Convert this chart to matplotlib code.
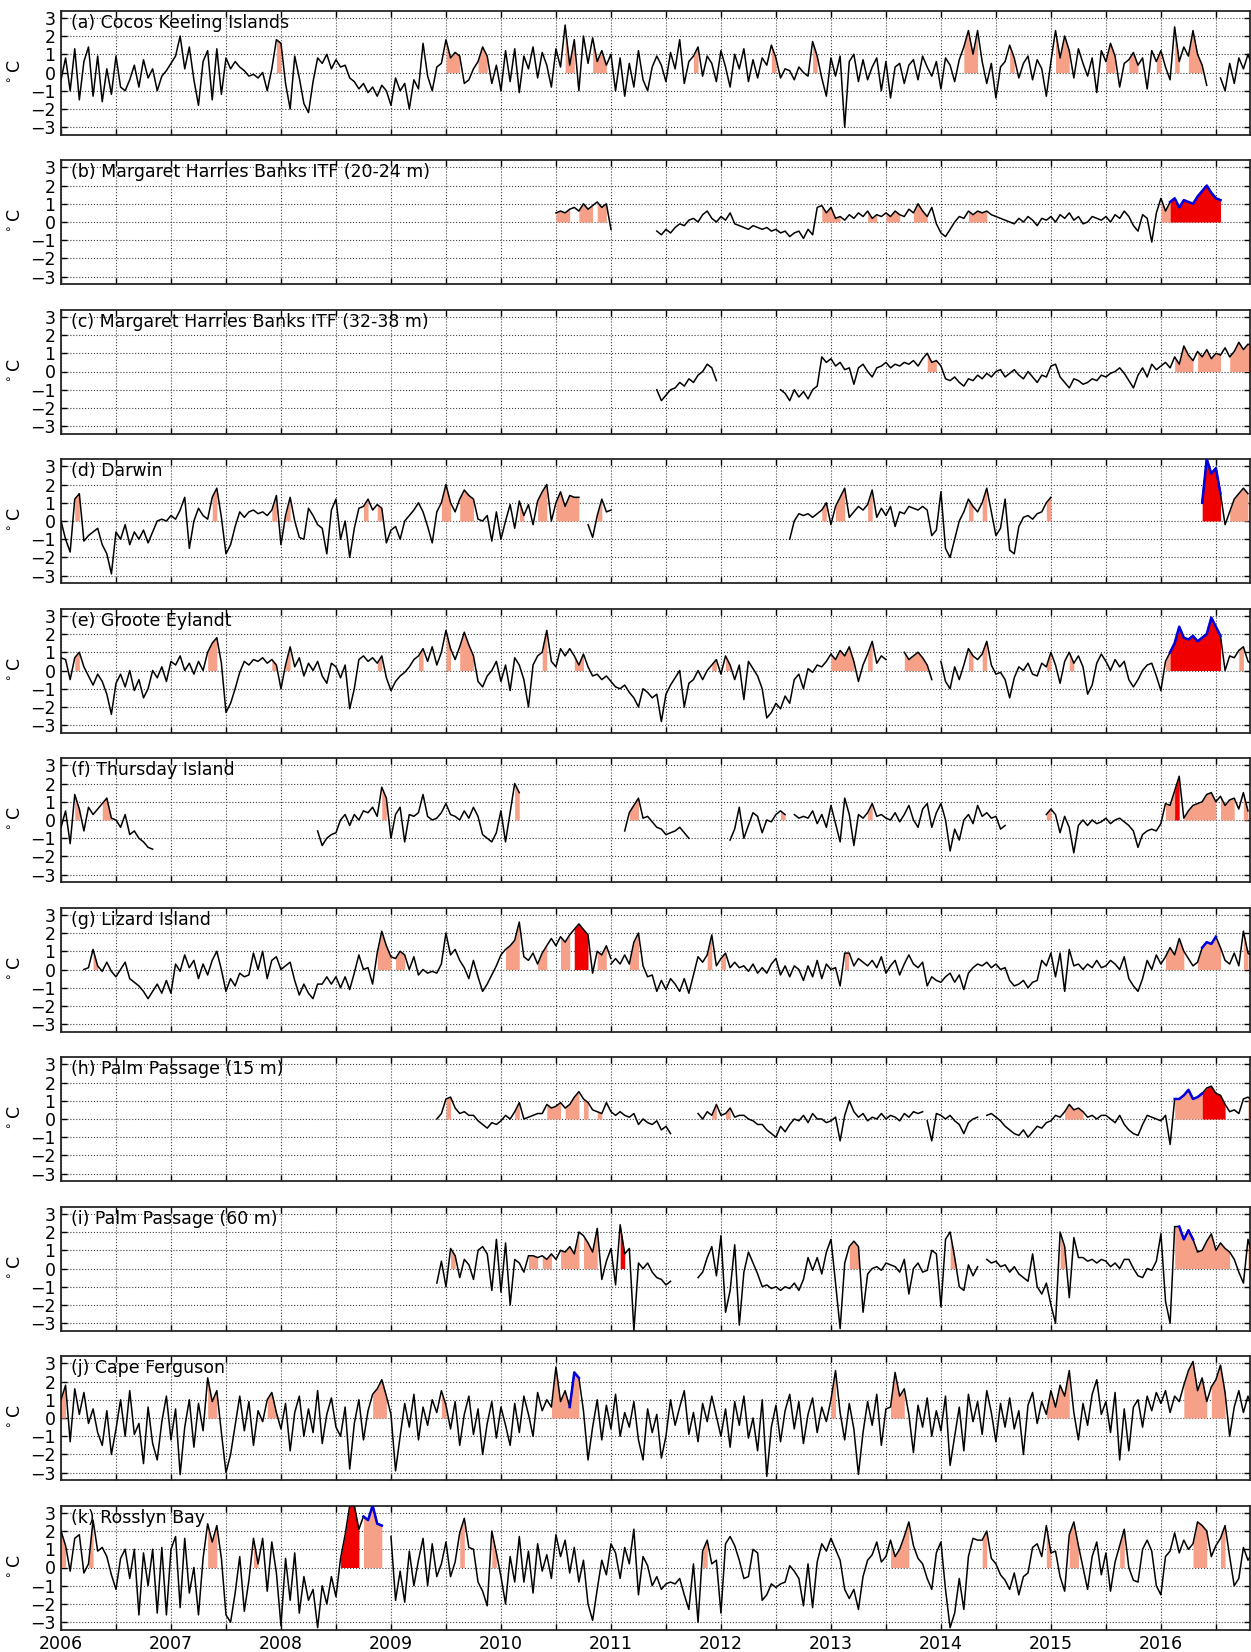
import numpy as np
import matplotlib.pyplot as plt

# semi-monthly temperature anomalies (deg C)
step = 1 / 24.0

# ---------------- (a) Cocos Keeling Islands ----------------
a_2006 = [-0.4, 0.8, -1.0, 1.3, -1.5, 0.6, 1.4, -1.3, 0.9, -1.6, 0.2, -1.2, 0.9, -0.8, -1.0, -0.4, 0.4, -0.8, 0.7, -0.3, 0.2, -1.0, -0.2, 0.1]
a_2007 = [0.5, 0.9, 2.0, 0.2, 1.4, -0.4, -1.8, 0.6, 1.2, -1.5, 1.3, -1.2, 0.8, 0.2, 0.6, 0.3, 0.1, -0.2, -0.1, -0.3, 0.0, -1.0, 0.2, 1.8]
a_2008 = [1.6, -0.6, -2.0, 0.9, -0.3, -1.7, -2.2, -0.5, 0.8, 0.5, 1.0, 0.2, 0.7, 0.3, 0.4, -0.3, -0.5, -0.9, -0.6, -1.1, -0.8, -1.3, -0.7, -1.0]
a_2009 = [-1.8, -0.3, -1.0, -0.6, -2.0, -0.4, -0.9, 1.6, -0.2, -1.0, 0.3, 0.5, 1.8, 0.8, 1.1, 0.9, -0.6, -0.4, 0.2, 0.6, 1.4, 0.9, -0.6, 0.4]
a_2010 = [-1.0, 1.2, -0.5, 1.3, -1.1, 0.9, 0.2, 1.4, -0.3, 1.1, 0.4, -0.8, 1.3, 0.3, 2.6, 0.4, 1.8, -1.0, 2.0, 0.5, 1.9, 0.6, 1.2, 0.4]
a_2011 = [1.0, -1.0, 0.8, -1.3, 0.5, -0.8, 1.2, -0.4, -1.0, 0.3, 0.9, 0.4, -0.5, 1.1, 0.2, 1.8, -0.6, 0.6, 0.9, 1.4, -0.2, 0.9, 0.5, -0.5]
a_2012 = [1.2, 0.3, -0.8, 1.0, 0.2, 1.3, -0.5, 0.7, -0.3, 0.8, 0.4, 1.5, 0.8, -0.3, 0.2, 0.1, -0.4, 0.3, 0.0, -0.2, 1.7, 0.9, -0.3, -1.3]
a_2013 = [0.8, -0.2, 0.9, -3.0, 0.6, 1.0, -0.5, 0.7, -0.4, 0.3, 0.8, -1.0, 0.6, -1.4, 0.3, 0.5, -0.6, 0.4, 0.7, -0.4, 0.9, 0.3, -0.2, 0.6]
a_2014 = [-0.9, 0.8, 0.4, -0.5, 0.7, 1.4, 2.3, 1.0, 2.3, 0.6, -0.6, 0.5, -1.4, 0.3, 0.6, 1.5, 0.8, -0.3, 0.5, 0.9, -0.4, 0.7, 0.2, -1.3]
a_2015 = [0.6, 2.3, 0.8, 2.0, 1.2, -0.3, 1.3, 0.5, -0.2, 0.8, -1.1, 1.2, 0.6, 1.6, 0.9, -0.8, 0.5, 0.7, 1.1, 0.4, 0.8, -0.9, 1.2, 0.6]
a_2016 = [1.2, 0.3, -0.4, 2.5, 0.6, 1.4, 0.9, 2.3, 1.0, 0.4, -0.7]
a_late = [-0.3, -1.0, 0.5, -0.6, 0.8, 0.2, 1.0, 0.3]
a_segments = [(2006.0, a_2006 + a_2007 + a_2008 + a_2009 + a_2010 + a_2011 + a_2012
               + a_2013 + a_2014 + a_2015 + a_2016),
              (2016.542, a_late)]
a_mhw = [(2007.95, 2008.02), (2009.5, 2009.63), (2009.78, 2009.88), (2010.58, 2010.69),
         (2010.83, 2010.97), (2011.74, 2011.8), (2012.45, 2012.5), (2012.82, 2012.88),
         (2014.2, 2014.34), (2014.6, 2014.68), (2015.02, 2015.18), (2015.5, 2015.6),
         (2015.7, 2015.8), (2015.95, 2016.01), (2016.12, 2016.17), (2016.25, 2016.38)]
a_red = []
a_blue = []

# ---------------- (b) Margaret Harries Banks ITF (20-24 m) ----------------
b_2010 = [0.5, 0.6, 0.5, 0.7, 0.8, 0.6, 1.0, 0.7, 0.9, 1.1, 0.8, 1.0, -0.4]
b_2011 = [-0.5, -0.7, -0.4, -0.6, -0.3, -0.1, -0.2, 0.1, 0.2, 0.0, 0.4, 0.6, 0.2]
b_2012 = [0.0, 0.3, 0.1, 0.5, -0.1, -0.2, -0.3, -0.4, -0.2, -0.3, -0.4, -0.3, -0.5, -0.4, -0.6, -0.5, -0.8, -0.6, -0.5, -0.9, -0.4, -0.7, 0.8, 0.9]
b_2013 = [0.5, 0.8, 0.2, 0.3, 0.1, 0.4, 0.2, 0.5, 0.3, 0.6, 0.2, 0.4, 0.3, 0.5, 0.3, 0.6, 0.4, 0.3, 0.7, 0.5, 1.0, 0.6, 0.3, 0.8]
b_2014 = [-0.1, -0.6, -0.8, -0.4, 0.0, 0.3, 0.2, 0.6, 0.4, 0.6, 0.5, 0.6, 0.4, 0.3, 0.2, 0.1, 0.0, -0.1, 0.2, 0.0, 0.3, 0.1, -0.2, 0.2]
b_2015 = [0.1, 0.3, 0.0, 0.4, 0.2, 0.5, 0.1, 0.3, -0.1, 0.0, 0.3, 0.2, 0.1, 0.3, 0.0, 0.4, 0.2, 0.6, 0.3, -0.2, -0.5, 0.4, 0.2, -1.1]
b_2016 = [0.5, 1.3, 0.6, 1.1, 1.3, 0.8, 1.2, 1.1, 1.0, 1.4, 1.7, 2.0, 1.6, 1.3, 1.2]
b_segments = [(2010.5, b_2010), (2011.417, b_2011 + b_2012 + b_2013 + b_2014 + b_2015 + b_2016)]
b_mhw = [(2010.5, 2010.63), (2010.67, 2010.84), (2010.875, 2010.96), (2012.9, 2013.1),
         (2013.33, 2013.42), (2013.5, 2013.63), (2013.75, 2013.88), (2014.25, 2014.42),
         (2015.2, 2015.25), (2016.0, 2016.1)]
b_red = [(2016.08, 2016.6)]
b_blue = [(2016.08, 2016.6)]

# ---------------- (c) Margaret Harries Banks ITF (32-38 m) ----------------
c_2011 = [-1.0, -1.6, -1.3, -1.0, -0.9, -0.6, -0.8, -0.4, -0.6, -0.2, 0.0, 0.4, 0.2, -0.5]
c_2012 = [-1.0, -1.2, -1.6, -1.0, -1.4, -1.1, -1.5, -1.0, -0.8, 0.8, 0.5]
c_2013 = [0.7, 0.3, 0.5, 0.1, 0.2, -0.7, 0.2, 0.4, 0.0, -0.3, 0.2, 0.3, 0.5, 0.2, 0.4, 0.3, 0.5, 0.4, 0.6, 0.3, 0.7, 1.0, 0.5, 0.6]
c_2014 = [0.3, -0.4, -0.5, -0.3, -0.6, -0.8, -0.4, -0.5, -0.2, -0.4, -0.1, -0.3, 0.0, 0.1, -0.3, -0.1, 0.1, -0.2, -0.4, 0.0, -0.3, -0.6, -0.2, -0.3]
c_2015 = [0.3, 0.4, -0.3, -0.6, -0.9, -0.4, -0.5, -0.7, -0.6, -0.4, -0.5, -0.2, -0.3, -0.1, 0.0, 0.2, -0.1, -0.5, -0.9, -0.2, 0.2, -0.3, 0.4, 0.1]
c_2016 = [0.3, 0.5, 0.2, 0.8, 0.4, 1.4, 0.9, 0.6, 1.1, 0.8, 1.2, 0.7, 1.0, 0.9, 1.3, 0.8, 1.1, 1.6, 1.2, 1.5, 1.4]
c_segments = [(2011.417, c_2011), (2012.542, c_2012 + c_2013 + c_2014 + c_2015 + c_2016)]
c_mhw = [(2013.87, 2014.0), (2016.1, 2016.3), (2016.33, 2016.55), (2016.6, 2016.84)]
c_red = []
c_blue = []

# ---------------- (d) Darwin ----------------
d_2006 = [0.0, -1.0, -1.7, 1.2, 1.5, -1.1, -0.8, -0.6, -0.4, -1.3, -1.8, -2.9, -0.6, -1.0, -0.2, -1.3, -0.6, -1.0, -0.5, -1.2, -0.6, 0.0, 0.1, 0.0]
d_2007 = [0.3, 0.1, 0.6, 1.3, -1.5, 0.0, 0.7, 0.3, 0.1, 1.3, 1.8, 0.2, -1.8, -1.3, -0.3, 0.5, 0.2, 0.5, 0.6, 0.4, 0.5, 0.3, 0.6, 1.4]
d_2008 = [-1.3, 0.3, 1.3, 0.0, -0.9, -1.0, 0.7, 0.3, -0.2, -0.4, -1.8, 0.6, 1.2, -1.0, 0.0, -2.0, -0.4, 0.7, 0.8, 1.2, 0.6, 0.9, 0.7, -1.2]
d_2009 = [-0.5, -0.3, -1.0, 0.0, 0.3, 0.6, 1.0, 0.5, -0.3, -1.2, 0.5, 1.0, 2.0, 1.0, 0.5, 1.2, 1.7, 1.4, 1.2, 0.1, 0.0, 0.3, -1.1, 0.5]
d_2010 = [-1.0, 0.0, 0.9, -0.4, 1.1, 0.3, 0.9, -0.2, 1.1, 1.6, 2.0, 0.0, 1.0, 1.6, 0.8, 1.4, 1.3, 1.3]
d_2010b = [-0.2, -0.9, 0.3, 1.2, 0.5, 0.6]
d_2012 = [-1.0, 0.0, 0.4, 0.3, 0.4, 0.2, 0.4, 0.6, 1.0]
d_2013 = [-0.2, 0.8, 1.3, 1.8, 0.2, 0.5, 0.8, 0.6, 0.9, 1.7, 0.2, 0.7, 0.3, 0.8, -0.3, 0.5, 0.4, 0.8, 0.7, 0.6, 0.8, 0.6, -0.8, -0.5]
d_2014 = [1.6, -1.5, -2.0, -1.0, 0.0, 0.5, 1.2, 0.8, 0.5, 1.0, 1.8, 0.5, -0.8, -0.4, 1.2, -1.6, -1.8, -0.3, 0.2, 0.3, 0.1, 0.4, 0.5, 1.0, 1.3]
d_2016 = [1.0, 3.4, 2.6, 2.9, 1.5, -0.2, 0.5, 1.2, 1.5, 1.8, 1.5]
d_segments = [(2006.0, d_2006 + d_2007 + d_2008 + d_2009 + d_2010), (2010.792, d_2010b),
              (2012.625, d_2012 + d_2013 + d_2014), (2016.375, d_2016)]
d_mhw = [(2006.12, 2006.17), (2007.37, 2007.42), (2007.91, 2007.96), (2008.04, 2008.09),
         (2008.75, 2008.8), (2008.87, 2008.92), (2009.45, 2009.55), (2009.62, 2009.75),
         (2010.16, 2010.21), (2010.33, 2010.42), (2010.5, 2010.71), (2010.87, 2010.92),
         (2012.91, 2012.96), (2013.04, 2013.13), (2013.33, 2013.38), (2014.24, 2014.3),
         (2014.37, 2014.42), (2014.95, 2015.0), (2016.62, 2016.8)]
d_red = [(2016.37, 2016.55)]
d_blue = [(2016.37, 2016.55)]

# ---------------- (e) Groote Eylandt ----------------
e_2006 = [0.7, 0.6, -0.5, 0.7, 1.0, 0.2, -0.3, -0.8, -0.2, -0.6, -1.3, -2.4, -0.7, -0.2, -0.9, 0.0, -1.1, -0.5, -1.5, -1.0, 0.0, -0.4, 0.2, -0.6]
e_2007 = [0.5, 0.3, 0.8, 0.0, 0.4, -0.2, 0.5, 0.0, 1.0, 1.5, 1.8, 0.4, -2.3, -1.8, -1.0, -0.1, 0.5, 0.3, 0.6, 0.5, 0.7, 0.4, 0.6, 0.3]
e_2008 = [-1.0, 0.3, 1.3, 0.2, 0.7, -0.3, 0.4, 0.0, 0.5, -0.3, -0.7, 0.4, 0.2, -0.4, 0.3, -2.1, -1.0, 0.6, 0.8, 0.5, 0.7, 0.4, 0.8, -0.4]
e_2009 = [-1.1, -0.6, -0.3, -0.1, 0.2, 0.6, 0.8, 1.2, 0.5, 1.3, 0.3, 1.0, 2.2, 1.2, 0.6, 1.3, 2.1, 1.4, 0.8, -0.6, -0.9, -0.3, 0.0, 0.5]
e_2010 = [-0.6, 0.3, -1.1, 0.7, 0.3, -0.5, -2.0, 0.3, 0.8, 1.0, 2.2, 0.5, 0.2, 1.2, 0.8, 1.2, 0.8, 0.3, 0.9, 0.2, -0.3, -0.2, -0.5, -0.3]
e_2011 = [-0.6, -0.9, -1.0, -0.8, -1.2, -1.5, -2.0, -1.0, -1.2, -1.5, -1.3, -2.8, -1.3, -0.8, -0.4, 0.0, -2.0, -0.7, -0.5, 0.0, -0.5, 0.0, 0.3, 0.6]
e_2012 = [-0.2, 0.8, 0.3, -0.5, 0.3, -1.6, 0.5, 0.1, -0.3, -1.0, -2.6, -2.3, -1.8, -2.1, -1.4, -1.8, -0.5, -0.2, -1.0, 0.1, -0.1, 0.3, 0.2, 0.5]
e_2013 = [0.9, 0.6, 1.1, 0.8, 1.3, 0.5, -0.6, 0.3, 0.9, 1.6, 0.4, 0.8, 0.6]
e_2013b = [1.0, 0.6, 0.8, 1.0, 0.7, 0.3, -0.5]
e_2014 = [0.5, -0.6, -1.0, 0.2, -0.5, 0.3, 1.2, 0.8, 0.6, 0.9, 1.6, 0.3, -0.2, -0.1, -0.5, -1.5, -0.4, 0.2, 0.0, 0.4, -0.2, -0.3, 0.4, 0.2]
e_2015 = [1.0, 0.3, -0.7, 0.5, 1.0, 0.4, 0.8, 0.2, -1.3, -0.8, 0.4, 0.9, 0.5, 0.0, 0.6, 0.2, 0.5, -0.5, -0.9, -0.5, 0.0, 0.3, 0.4, -0.3]
e_2016 = [-1.1, 0.5, 1.0, 1.5, 2.4, 1.8, 1.7, 1.9, 1.6, 1.8, 2.0, 2.9, 2.4, 1.9, 0.0, 0.8, 0.7, 1.1, 1.3, 0.5, 0.3]
e_segments = [(2006.0, e_2006 + e_2007 + e_2008 + e_2009 + e_2010 + e_2011 + e_2012 + e_2013),
              (2013.667, e_2013b), (2014.0, e_2014 + e_2015 + e_2016)]
e_mhw = [(2006.12, 2006.17), (2007.33, 2007.42), (2007.91, 2007.96), (2008.04, 2008.09),
         (2008.87, 2008.92), (2009.25, 2009.3), (2009.5, 2009.55), (2009.62, 2009.75),
         (2010.37, 2010.42), (2010.54, 2010.58), (2010.66, 2010.75), (2011.91, 2011.96),
         (2012.04, 2012.09), (2013.0, 2013.21), (2013.33, 2013.38), (2013.66, 2013.88),
         (2014.25, 2014.3), (2014.37, 2014.42), (2014.95, 2015.0), (2015.16, 2015.21),
         (2016.04, 2016.09), (2016.7, 2016.75)]
e_red = [(2016.08, 2016.55)]
e_blue = [(2016.08, 2016.55)]

# ---------------- (f) Thursday Island ----------------
f_2006 = [-0.4, 0.5, -1.3, 1.4, 0.6, -0.6, 0.7, 0.3, 0.6, 0.9, 1.2, 0.1, 0.0, -0.4, 0.3, -0.8, -0.6, -1.0, -1.2, -1.5, -1.6]
f_2008 = [-0.6, -1.4, -1.0, -0.8, -0.7, 0.0, 0.3, -0.3, 0.3, 0.0, 0.5, 0.4, 0.7, 0.2, 1.8, 1.2,
          -1.0, 0.3, 0.7, -1.2, 0.3, 0.2, 0.4, 1.4, 0.2, 0.0, 0.1, 0.4, 0.9, 0.3, 0.2, 0.0, 0.5, 0.1, 0.7, 0.2, -0.8, -1.0, -1.2, -0.7,
          0.5, -1.2, 0.4, 2.0, 1.5]
f_2011 = [-0.6, 0.4, 0.8, 1.2, 0.1, 0.2, -0.1, -0.4, -0.5, -0.8, -0.7, -0.6, -0.4, -0.7, -1.0]
f_2012 = [-1.1, -0.5, 0.7, -1.0, -0.3, 0.4, 0.2, -0.7, 0.0, -0.1, 0.3, 0.5, 0.3]
f_2012b = [0.3, 0.1, 0.2, 0.1, 0.5, -0.2, 0.3, -0.4, 0.8, -0.2, -1.2, 1.2, 0.3, -1.4, 0.3, 0.1, 0.4, 0.9, 0.2, 0.3, 0.1, 0.0, 0.4, -0.1,
           0.3, 0.8, 0.0, -0.4, 0.6, 0.9, -0.4, 0.4, 0.9, 0.0, -1.7, -0.5, -1.1, 0.0, 0.3, -0.2, 0.8, 0.2, 0.4, 0.1, 0.2, -0.5, -0.3]
f_2015 = [0.3, 0.6, 0.3, -0.7, 0.2, -0.4, -1.8, -0.3, 0.0, -0.3, 0.0, -0.2, -0.1, 0.1, -0.2, 0.0, 0.1, -0.1, -0.3, -0.6, -1.5, -0.8, -0.6, -0.5,
          -0.6, -0.2, 0.9, 0.8, 1.6, 2.4, 0.1, 0.5, 0.8, 0.9, 1.0, 1.4, 1.5, 1.0, 1.3, 0.8, 1.1, 1.2, 0.6, 1.5, 0.5]
f_segments = [(2006.0, f_2006), (2008.333, f_2008), (2011.125, f_2011), (2012.083, f_2012),
              (2012.667, f_2012b), (2014.958, f_2015)]
f_mhw = [(2006.12, 2006.17), (2006.37, 2006.46), (2008.91, 2008.96), (2009.25, 2009.3),
         (2010.12, 2010.17), (2011.16, 2011.25), (2012.5, 2012.59), (2013.33, 2013.38),
         (2013.95, 2014.0), (2014.95, 2015.0), (2016.04, 2016.125), (2016.2, 2016.5),
         (2016.54, 2016.7), (2016.72, 2016.8)]
f_red = [(2016.12, 2016.17)]
f_blue = []

# ---------------- (g) Lizard Island ----------------
g_2006 = [0.0, 0.1, 1.1, 0.2, -0.1, 0.4, -0.1, -0.4, 0.0, 0.4, -0.5, -0.7, -0.9, -1.2, -1.6, -1.2, -0.8, -1.3, -0.6, -1.3,
          0.3, -0.1, 0.8, 0.1, 0.5, -0.5, 0.3, -0.3, 0.5, 1.0, 0.0, -1.2, -0.5, -0.9, -0.2, -0.4, -0.3, 0.9, 0.0, 1.0,
          -0.5, 0.5, 0.7, 0.0, 0.2, 0.4, -0.6, -1.4, -0.8, -1.3, -1.6, -0.8, -0.8, -0.4, -0.8, -0.4, -1.0, -0.4, -1.1, -0.2,
          0.8, 0.0, 0.1, -0.8, 0.9, 2.1, 1.3, 0.7, 0.6, 1.0, 0.8, 0.0, 0.7, -0.3, 0.0, -0.2, -0.1, -0.2, 0.3, 2.0,
          0.8, 1.1, 0.5, 0.1, -0.5, 0.5, -0.4, -1.2, -0.8, -0.3, 0.2, 0.8, 1.1, 1.3, 1.6, 2.6, 0.7, 0.5, 0.9, 0.3,
          0.9, 1.3, 1.7, 1.3, 1.8, 1.5, 1.9, 2.2, 2.5, 2.2, 1.9, -0.2, 1.0, 0.8, 1.3, 0.6]
g_2011 = [0.3, 0.6, 0.3, 0.8, 0.3, 1.5, 2.0, 0.2, -0.4, -0.3, -1.2, -0.6, -1.1, -0.5, -0.8, -1.2, -0.5, -1.3, -0.3, 0.7, 0.4, 0.8, 1.9, 0.2]
g_2012 = [0.6, 0.9, 0.1, 0.4, 0.1, 0.2, -0.1, 0.3, -0.2, 0.1, -0.2, 0.3, 0.6, -0.3, 0.2, -0.4, 0.2, 0.0, -0.6, 0.2, -0.4, 0.5, -0.5, 0.3]
g_2013 = [0.0, 0.1, -0.9, 0.9, 0.9, 0.2, 0.6, 0.4, 0.2, 0.5, 0.1, 0.7, -0.2, 0.2, 0.5, -0.3, 0.3, 0.8, 0.3, 0.1, 0.4, -0.9, -0.4, -0.6]
g_2014 = [-0.7, -0.4, -0.2, -0.7, -0.3, -1.1, -0.2, 0.1, 0.3, 0.2, 0.4, 0.1, 0.3, 0.0, 0.1, -0.6, -0.9, -0.8, -0.6, -1.0, -0.7, -0.6, 0.5, 0.2]
g_2015 = [0.9, -0.4, 0.9, -1.2, 1.1, 0.2, 0.3, 0.0, 0.3, 0.1, 0.5, 0.1, 0.2, 0.5, 0.3, 0.0, 0.7, -0.5, -0.9, -1.2, -0.5, 0.5, 0.0, 0.8]
g_2016 = [0.3, 0.7, 1.2, 0.8, 1.7, 1.0, 0.6, 0.2, 0.4, 1.2, 1.5, 1.4, 1.8, 1.2, 0.5, 0.3, 0.9, 0.2, 2.1, 0.9, 0.7]
g_segments = [(2006.208, g_2006), (2011.0, g_2011 + g_2012 + g_2013 + g_2014 + g_2015 + g_2016)]
g_mhw = [(2006.25, 2006.34), (2008.87, 2009.0), (2009.04, 2009.13), (2009.5, 2009.58),
         (2010.0, 2010.17), (2010.33, 2010.45), (2010.5, 2010.66), (2010.87, 2010.96),
         (2011.16, 2011.26), (2011.87, 2011.92), (2012.0, 2012.05), (2013.12, 2013.17),
         (2016.04, 2016.21), (2016.33, 2016.55), (2016.74, 2016.8)]
g_red = [(2010.66, 2010.8)]
g_blue = [(2016.37, 2016.5)]

# ---------------- (h) Palm Passage (15 m) ----------------
h_2009 = [0.0, 0.3, 1.1, 1.2, 0.6, 0.3, 0.4, 0.2, 0.2, -0.1, -0.3, -0.5, -0.2, -0.3, -0.1, 0.2, 0.0, 0.4, 0.9, 0.0,
          0.1, 0.2, 0.3, 0.3, 0.8, 0.6, 0.7, 0.9, 0.6, 0.8, 1.2, 1.5, 1.1, 0.9, 0.5, 0.4, 0.3, 0.9, 0.4, 0.2,
          0.4, 0.2, 0.1, 0.3, -0.3, 0.0, -0.2, -0.3, -0.1, -0.6, -0.4, -0.8]
h_2011 = [0.3, 0.0, 0.4, 0.2, 0.8, 0.2, 0.3, 0.6, 0.1, 0.2, 0.2, 0.0, -0.1, -0.3, -0.3, -0.6, -0.8, -1.0, -0.4, -0.7,
          -0.3, 0.0, -0.1, 0.2, -0.2, 0.3, 0.0, 0.0, -0.2, -0.1, 0.1, -1.2, 0.2, 1.0, 0.4, 0.1, 0.3, -0.1, 0.1, 0.0,
          0.3, 0.0, 0.2, 0.1, -0.1, 0.3, 0.1, 0.4, 0.3, 0.4]
h_2013 = [-0.1, -1.2, 0.3, 0.2, 0.0, 0.2, -0.1, -0.3, -0.8, -0.2, 0.0, 0.1]
h_2014 = [0.2, 0.3, 0.1, -0.1, -0.4, -0.6, -0.8, -0.9, -0.6, -1.0, -0.7, -0.4, -0.5, -0.2, -0.1, 0.2, 0.1, 0.4, 0.8, 0.5,
          0.6, 0.4, 0.1, 0.2, 0.0, 0.2, 0.2, 0.0, -0.2, 0.2, -0.3, -0.6, -0.8, -0.9, -0.3, 0.2, 0.1, 0.0, -0.1, 0.2,
          -1.4, 1.1, 1.1, 1.3, 1.6, 1.1, 1.2, 1.4, 1.7, 1.8, 1.4, 1.3, 0.8, 0.4, 0.5, 0.3, 1.1, 1.2, 1.0]
h_segments = [(2009.417, h_2009), (2011.792, h_2011), (2013.875, h_2013), (2014.417, h_2014)]
h_mhw = [(2009.47, 2009.55), (2010.12, 2010.17), (2010.41, 2010.55), (2010.58, 2010.72),
         (2010.75, 2010.8), (2010.87, 2010.92), (2011.91, 2011.96), (2012.04, 2012.09),
         (2015.12, 2015.3), (2016.12, 2016.38), (2016.78, 2016.84)]
h_red = [(2016.37, 2016.59)]
h_blue = [(2016.12, 2016.38)]

# ---------------- (i) Palm Passage (60 m) ----------------
i_2009 = [-0.8, 0.4, -1.0, 1.1, 0.7, -0.5, 0.5, 0.2, -0.6, 1.0, 1.2, 0.8, -1.2, 1.6, -1.3, 1.4, -2.0, 0.5, 0.3, -0.2,
          0.7, 0.7, 0.6, 0.7, 0.5, 0.8, 0.5, 1.0, 0.9, 1.2, 0.8, 2.0, 1.8, 1.4, 0.9, 2.2, -0.6, 0.4, 1.1, -0.9,
          2.4, 0.8, 1.1, -3.4, 0.3, 0.0, 0.3, -0.2, -0.5, -0.6, -0.9, -0.7]
i_2011 = [-0.5, -0.2, 0.6, 1.2, -0.4, 1.8, -2.4, -1.2, 1.3, -3.1, -0.2, 0.9, 0.3, -0.3, -1.0, -0.9, -1.1, -1.0, -1.2, -1.0,
          -1.1, -0.8, -1.2, -0.6, 0.6, -0.1, 0.6, -0.3, 0.9, 1.6, -0.8, -3.3, 0.3, 1.2, 1.5, 1.2, -2.4, -0.3, 0.0, 0.1,
          -0.1, 0.3, 0.2, 0.1, -0.2, 0.5, -1.4, 0.0, 0.3, -0.2, -0.1, 1.0, 0.8, -2.1, 1.6, 2.0, 0.6, -1.0, -1.2, 0.2,
          -0.4, 0.1]
i_2014 = [0.5, 0.3, 0.4, 0.1, 0.2, -0.2, 0.1, -0.3, -0.5, -0.7, 0.8, -1.0, -1.4, -0.8, -2.0, -3.0, 2.0, 1.2, -1.6, 1.7,
          0.6, 0.6, 0.4, 0.5, 0.3, 0.5, 0.4, 0.1, 0.3, 0.0, 0.5, 0.5, 0.0, -0.4, -0.5, 0.0, -0.1, 0.4, 1.9, -1.8,
          -3.0, 2.3, 2.3, 1.6, 2.1, 1.6, 0.9, 1.0, 1.5, 1.9, 1.0, 1.4, 1.1, 0.9, 0.5, -0.2, -0.8, 1.6, 0.7]
i_segments = [(2009.417, i_2009), (2011.792, i_2011), (2014.417, i_2014)]
i_mhw = [(2009.54, 2009.59), (2010.25, 2010.35), (2010.37, 2010.5), (2010.54, 2010.73),
         (2010.75, 2010.88), (2013.16, 2013.26), (2014.08, 2014.13), (2015.08, 2015.13),
         (2015.2, 2015.25), (2016.12, 2016.65), (2016.79, 2016.84)]
i_red = [(2011.08, 2011.13)]
i_blue = [(2016.16, 2016.3)]

# ---------------- (j) Cape Ferguson ----------------
j_2006 = [1.0, 1.8, -1.3, 1.6, 0.2, 1.4, -0.3, 0.5, -0.8, -1.5, 0.4, -2.0, -0.6, 1.0, -1.0, 1.5, -0.9, -0.3, -2.5, 0.6, -1.4, -2.3, -0.2, 1.2]
j_2007 = [-1.2, 0.5, -3.1, -0.5, 1.0, -1.6, 0.8, -0.7, 2.2, 0.9, 1.5, -0.8, -3.0, -2.0, -0.4, 1.2, -0.7, 0.9, -1.5, 0.4, -0.2, 1.0, 1.4, 0.3]
j_2008 = [-0.6, 0.8, -1.8, 0.3, 1.2, -1.0, 0.5, -0.8, 1.5, -1.4, 0.2, 1.1, -0.5, -1.0, 0.6, -2.8, -0.3, 1.0, -1.2, 0.4, 1.3, 1.6, 2.1, 1.2]
j_2009 = [0.2, -2.9, -1.0, 0.8, -0.5, 1.3, -1.2, 0.6, -0.4, 1.0, 0.3, 1.5, 0.7, -0.6, 0.9, -1.5, 0.2, 1.2, -0.9, 0.5, -2.0, -0.3, 0.9, -1.1]
j_2010 = [0.6, -0.4, -1.5, 0.8, -0.8, 1.2, 0.2, -1.0, 1.4, 0.4, 1.0, 0.6, 2.8, 0.9, 1.5, 0.6, 2.5, 2.2, 0.4, -2.3, -0.5, 1.0, -1.2, 0.7]
j_2011 = [-0.6, 1.3, -1.0, 0.3, -0.5, 0.9, -1.2, -2.3, 0.5, -0.8, 0.2, -2.2, -1.0, 1.0, -0.4, 0.6, 1.5, -0.9, 0.3, -1.3, 0.8, -0.2, 1.2, 0.1]
j_2012 = [-1.0, 0.5, -1.6, 0.9, -0.4, 1.2, -1.1, 0.0, -1.8, 1.0, -3.2, -0.5, 0.7, -1.3, 0.4, 1.3, -0.6, 0.9, -1.4, 0.2, 1.1, -0.8, 0.6, -0.2]
j_2013 = [1.0, 2.6, 0.3, -1.2, 0.8, -0.6, -3.1, -0.8, 0.9, -0.4, 1.3, -1.5, 0.5, 0.6, 2.5, 1.2, 1.6, 0.2, -1.9, 0.7, -0.5, 1.1, -1.0, 0.4]
j_2014 = [-0.7, 1.2, -2.6, -1.0, 0.6, -1.8, 1.3, -0.2, 0.9, -0.9, 1.5, 0.3, -1.3, 0.8, -0.5, 1.1, -0.6, 0.4, -2.0, 0.7, 1.4, -0.3, 0.9, 0.2]
j_2015 = [1.5, 0.6, 1.8, 1.2, 2.6, 0.3, -1.2, 0.8, -0.4, 1.3, 2.1, 0.2, 0.9, -0.8, 1.4, -2.3, 0.5, -1.8, 0.6, 1.0, -0.5, 1.2, 0.4, 1.4]
j_2016 = [0.8, 1.5, 0.3, 1.2, 0.9, 1.8, 2.6, 3.1, 1.5, 2.2, 0.9, 1.7, 2.1, 2.9, 1.4, -1.0, 0.6, 1.5, 0.3, 1.2, 0.5]
j_segments = [(2006.0, j_2006 + j_2007 + j_2008 + j_2009 + j_2010 + j_2011 + j_2012
               + j_2013 + j_2014 + j_2015 + j_2016)]
j_mhw = [(2006.0, 2006.05), (2007.33, 2007.42), (2007.87, 2007.96), (2008.83, 2008.96),
         (2009.45, 2009.5), (2010.45, 2010.71), (2013.0, 2013.05), (2013.54, 2013.67),
         (2014.95, 2015.17), (2016.2, 2016.42), (2016.45, 2016.59)]
j_red = []
j_blue = [(2010.62, 2010.71)]

# ---------------- (k) Rosslyn Bay ----------------
k_2006 = [2.0, 1.2, -0.2, 1.6, 1.8, -0.3, 0.2, 2.6, 0.9, 1.1, 0.6, -0.4, -1.2, 0.5, 1.0, -0.6, 1.0, -2.6, 0.8, -1.0, 1.0, -2.5, 1.1, -2.6]
k_2007 = [1.0, 1.7, -2.2, 1.6, -1.4, 0.0, -2.6, 0.5, 2.4, 1.4, 2.3, 0.5, -2.6, -3.0, -1.4, 0.6, -2.4, -0.7, 1.6, 0.2, 1.6, -1.3, 1.4, -0.3]
k_2008 = [-3.2, 0.5, -1.8, 0.8, -2.5, -0.5, -1.8, -1.2, -3.3, -1.0, -2.0, -0.5, -1.6, 0.5, 1.8, 3.4, 3.4, 2.1, 2.8, 2.6, 3.4, 2.4, 2.3]
k_2009 = [1.7, -1.8, -0.2, -1.9, 0.9, -1.0, 0.4, 1.6, -1.0, 1.3, -0.5, 0.2, 1.4, -0.5, 0.3, 1.9, 2.7, 1.1, 1.0, -0.8, -1.3, -2.1, 2.0, 0.8]
k_2010 = [-0.5, -2.0, 0.6, -0.8, 1.7, -0.8, 0.9, -1.4, 1.3, -0.2, 0.7, -0.6, 1.8, 0.6, 1.5, -0.3, 1.1, -0.8, 0.4, -2.0, -2.9, -1.2, 0.4, -0.4]
k_2011 = [1.3, 0.8, -0.6, 1.1, 0.2, 2.1, -1.5, 0.6, 0.1, -1.0, -0.5, -1.2, -0.9, -0.8, -0.9, -0.6, -1.5, -2.3, 0.2, -3.0, 0.9, 1.5, 0.2, 0.4]
k_2012 = [-2.5, 1.3, 1.7, 1.2, 0.4, -0.6, -0.5, 1.0, 0.8, -1.8, -1.5, -0.9, -1.1, -0.9, -0.8, 0.1, -0.2, -0.6, -2.1, 0.2, -2.2, 0.3, 1.3, 0.9]
k_2013 = [1.6, 1.0, 0.4, -1.2, -1.7, -1.2, -2.3, -0.5, 0.4, 0.7, 1.4, 0.3, 0.6, 1.5, 0.6, 1.0, 1.7, 2.5, 1.2, 0.5, 0.2, -0.6, -1.2, 0.8]
k_2014 = [1.4, -1.2, -3.3, -2.5, -0.6, -2.3, 0.6, 1.6, 1.5, 1.5, 2.0, 0.5, 0.2, -0.4, -0.7, -1.2, -0.3, -1.5, -0.5, -0.3, 1.1, 1.3, 0.6, 2.3]
k_2015 = [0.8, 0.9, -0.5, -1.3, 1.8, 2.5, 1.2, 0.0, -1.2, 0.6, 1.4, -0.4, 0.8, -1.3, 0.3, 1.2, 2.1, 0.0, -0.7, -0.8, 1.0, 1.5, 0.9, -1.0]
k_2016 = [-1.5, 0.6, 0.9, 1.9, 0.8, 1.5, 1.0, 1.3, 2.5, 2.3, 2.0, 0.6, 1.2, 1.6, 2.3, 0.6, -1.0, -0.6, 1.1, 0.4, 0.8]
k_segments = [(2006.0, k_2006 + k_2007 + k_2008),
              (2009.0, k_2009 + k_2010 + k_2011 + k_2012 + k_2013 + k_2014 + k_2015 + k_2016)]
k_mhw = [(2006.0, 2006.05), (2006.25, 2006.3), (2007.33, 2007.42), (2007.75, 2007.8),
         (2008.71, 2008.92), (2009.46, 2009.5), (2009.62, 2009.7), (2009.91, 2009.96),
         (2011.83, 2011.88), (2013.54, 2013.71), (2014.37, 2014.42), (2014.95, 2015.0),
         (2015.16, 2015.25), (2015.62, 2015.67), (2016.29, 2016.42), (2016.54, 2016.59)]
k_red = [(2008.54, 2008.71)]
k_blue = [(2008.74, 2008.92)]

labels = ['(a) Cocos Keeling Islands', '(b) Margaret Harries Banks ITF (20-24 m)',
          '(c) Margaret Harries Banks ITF (32-38 m)', '(d) Darwin', '(e) Groote Eylandt',
          '(f) Thursday Island', '(g) Lizard Island', '(h) Palm Passage (15 m)',
          '(i) Palm Passage (60 m)', '(j) Cape Ferguson', '(k) Rosslyn Bay']
panels = [(a_segments, a_mhw, a_red, a_blue), (b_segments, b_mhw, b_red, b_blue),
          (c_segments, c_mhw, c_red, c_blue), (d_segments, d_mhw, d_red, d_blue),
          (e_segments, e_mhw, e_red, e_blue), (f_segments, f_mhw, f_red, f_blue),
          (g_segments, g_mhw, g_red, g_blue), (h_segments, h_mhw, h_red, h_blue),
          (i_segments, i_mhw, i_red, i_blue), (j_segments, j_mhw, j_red, j_blue),
          (k_segments, k_mhw, k_red, k_blue)]

salmon = '#f6a088'
red = '#f00000'
blue = '#0000dd'
fs = 12.5

W, H = 1251.0, 1652.0
fig = plt.figure(figsize=(W / 100, H / 100), dpi=100)

xticks = np.arange(2006, 2017, 0.5)
for n, (label, (segs, mhw, severe, hot)) in enumerate(zip(labels, panels)):
    top = 10.5 + n * 149.5
    ax = fig.add_axes([61 / W, 1 - (top + 124) / H, 1189 / W, 124 / H])
    for start, vals in segs:
        y = np.array(vals, dtype=float)
        t = start + np.arange(len(y)) * step
        yp = np.clip(y, 0, None)
        for s, e in mhw:
            m = (t >= s) & (t <= e)
            if m.sum() > 1:
                ax.fill_between(t, 0, yp, where=m, color=salmon, lw=0, zorder=2)
        for s, e in severe:
            m = (t >= s) & (t <= e)
            if m.sum() > 1:
                ax.fill_between(t, 0, yp, where=m, color=red, lw=0, zorder=2)
        ax.plot(t, y, color='k', lw=1.1, zorder=3)
        for s, e in hot:
            m = (t >= s) & (t <= e)
            if m.sum() > 1:
                ax.plot(t[m], y[m], color=blue, lw=1.8, zorder=4)

    ax.set_xlim(2006, 2016.81)
    ax.set_ylim(-3.4, 3.4)
    ax.set_yticks(range(-3, 4))
    ax.set_xticks(xticks)
    if n == len(labels) - 1:
        ax.set_xticklabels([str(int(v)) if v % 1 == 0 else '' for v in xticks])
    else:
        ax.set_xticklabels([])
    ax.tick_params(direction='in', top=True, right=True, length=4, width=1,
                   labelsize=fs, pad=4)
    ax.grid(True, color='0.25', linestyle=':', linewidth=0.8)
    ax.set_axisbelow(True)
    for sp in ax.spines.values():
        sp.set_linewidth(1.3)
        sp.set_color('0.15')
    ax.set_ylabel(r'$^\circ$C', fontsize=fs)
    ax.yaxis.set_label_coords(-0.031, 0.5)
    ax.text(0.0085, 0.975, label, transform=ax.transAxes, ha='left', va='top',
            fontsize=fs, zorder=5)

fig.savefig('out.png', dpi=100, facecolor='white')
